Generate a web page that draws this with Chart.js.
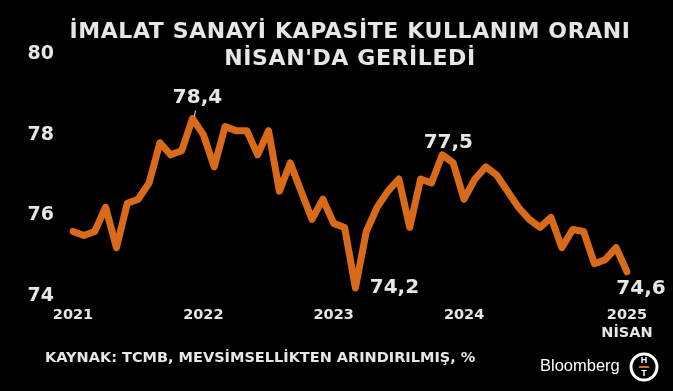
<!DOCTYPE html>
<html>
<head>
<meta charset="utf-8">
<script src="https://cdn.jsdelivr.net/npm/chart.js@4.4.1/dist/chart.umd.min.js"></script>
<style>
  html, body { margin: 0; padding: 0; background: #000; }
  #wrap { width: 673px; height: 391px; }
</style>
</head>
<body>
<div id="wrap"><canvas id="myChart"></canvas></div>
<script>
// monthly, Ocak 2021 - Nisan 2025
const years = [2021, 2022, 2023, 2024, 2025];
const months = [];
years.forEach(y => {
  for (let m = 1; m <= 12; m++) {
    if (y === 2025 && m > 4) break;
    months.push(y + '-' + String(m).padStart(2, '0'));
  }
});

const kko = [
  75.6, 75.5, 75.6, 76.2, 75.2, 76.3, 76.4, 76.8, 77.8, 77.5, 77.6, 78.4,
  78.0, 77.2, 78.2, 78.1, 78.1, 77.5, 78.1, 76.6, 77.3, 76.6, 75.9, 76.4,
  75.8, 75.7, 74.2, 75.6, 76.2, 76.6, 76.9, 75.7, 76.9, 76.8, 77.5, 77.3,
  76.4, 76.9, 77.2, 77.0, 76.6, 76.2, 75.9, 75.7, 75.95, 75.2, 75.65, 75.6,
  74.8, 74.9, 75.2, 74.6
];

const yTicks = [74, 76, 78, 80];

// index -> label text and where it sits relative to the point
const callouts = [
  { i: 11, text: '78,4', dx: 5, dy: -21 },
  { i: 26, text: '74,2', dx: 39, dy: 0 },
  { i: 34, text: '77,5', dx: 6, dy: -12 },
  { i: 51, text: '74,6', dx: 14, dy: 17 }
];

const textCol = '#e6e6e6';
const fontFam = '"DejaVu Sans", Verdana, sans-serif';

const extras = {
  id: 'extras',
  afterDraw(chart) {
    const c = chart.ctx;
    const xs = chart.scales.x, ys = chart.scales.y;
    c.save();
    c.fillStyle = textCol;
    c.textAlign = 'center';
    c.textBaseline = 'middle';
    c.font = 'bold 22px ' + fontFam;
    c.letterSpacing = '0.6px';
    c.fillText('İMALAT SANAYİ KAPASİTE KULLANIM ORANI', 350, 32);
    c.fillText("NİSAN'DA GERİLEDİ", 350, 59);
    c.letterSpacing = '0px';

    c.font = 'bold 20px ' + fontFam;
    callouts.forEach(o => {
      const px = xs.getPixelForValue(o.i);
      const py = ys.getPixelForValue(kko[o.i]);
      c.fillText(o.text, px + o.dx, py + o.dy);
    });
    // small pointer at the 2021 peak
    const p = { x: xs.getPixelForValue(11), y: ys.getPixelForValue(kko[11]) };
    c.strokeStyle = textCol;
    c.lineWidth = 1;
    c.beginPath();
    c.moveTo(p.x + 3, p.y - 8);
    c.lineTo(p.x + 2, p.y - 2);
    c.stroke();

    c.textAlign = 'left';
    c.font = 'bold 14.5px ' + fontFam;
    c.fillText('KAYNAK: TCMB, MEVSİMSELLİKTEN ARINDIRILMIŞ, %', 45, 358);

    c.fillStyle = '#ffffff';
    c.font = '16.5px "Liberation Sans", Arial, sans-serif';
    c.fillText('Bloomberg', 540, 366);
    c.strokeStyle = '#ffffff';
    c.lineWidth = 3;
    c.beginPath();
    c.arc(644, 367, 13, 0, Math.PI * 2);
    c.stroke();
    c.font = 'bold 9px "Liberation Sans", sans-serif';
    c.textAlign = 'center';
    c.fillText('H', 644, 361);
    c.fillText('T', 644, 374);
    c.fillStyle = '#d86a1a';
    c.fillRect(639, 366, 10, 2);
    c.restore();
  }
};

const ctx = document.getElementById('myChart');
new Chart(ctx, {
  type: 'line',
  data: {
    labels: months,
    datasets: [{
      data: kko,
      borderColor: '#d86a1a',
      borderWidth: 7,
      pointRadius: 0,
      tension: 0,
      borderJoinStyle: 'round',
      borderCapStyle: 'round'
    }]
  },
  options: {
    responsive: true,
    maintainAspectRatio: false,
    animation: false,
    layout: { padding: { top: 54, left: 10, right: 46, bottom: 0 } },
    plugins: {
      legend: { display: false },
      tooltip: { enabled: false }
    },
    scales: {
      x: {
        grid: { display: false },
        border: { display: false },
        afterFit: s => { s.height = 95; },
        ticks: {
          autoSkip: false,
          maxRotation: 0,
          padding: 3,
          color: textCol,
          font: { family: fontFam, size: 14.5, weight: 'bold', lineHeight: 1.2 },
          callback: (v, i) => {
            const lab = months[i];
            if (i === months.length - 1) return ['2025', 'NİSAN'];
            if (lab.endsWith('-01') && !lab.startsWith('2025')) return lab.slice(0, 4);
            return null;
          }
        }
      },
      y: {
        min: 74,
        max: 80,
        afterBuildTicks: s => { s.ticks = yTicks.map(v => ({ value: v })); },
        afterFit: s => { s.width = 63; },
        grid: { display: false },
        border: { display: false },
        ticks: {
          padding: 11,
          color: textCol,
          font: { family: fontFam, size: 19, weight: 'bold' }
        }
      }
    }
  },
  plugins: [extras]
});
</script>
</body>
</html>
